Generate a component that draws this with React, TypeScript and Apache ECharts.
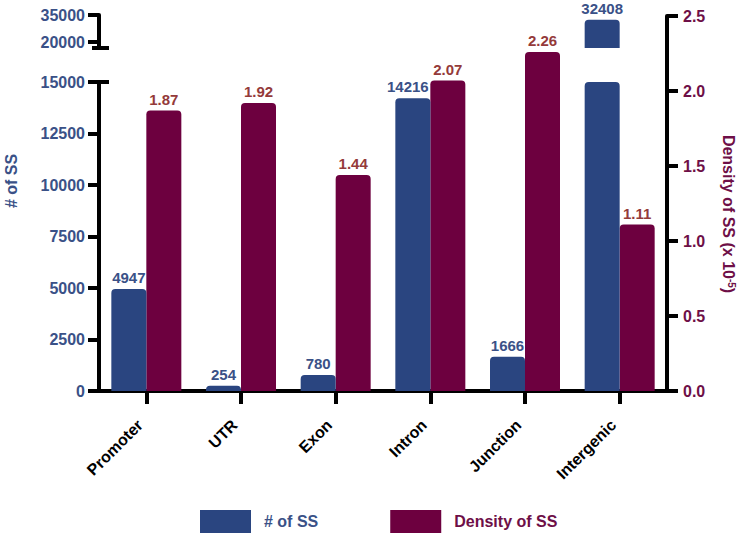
import React, { useEffect, useRef } from "react";
import * as echarts from "echarts";

const categories = ["Promoter", "UTR", "Exon", "Intron", "Junction", "Intergenic"];
const ssCounts = [4947, 254, 780, 14216, 1666, 32408];
const ssDensity = [1.87, 1.92, 1.44, 2.07, 2.26, 1.11];
const lowerMax = 15000;
const lowerInterval = 2500;
const upperTickValues = [20000, 35000];
const densityMax = 2.5;
const densityInterval = 0.5;

const BLUE = "#2a4580";
const BLUE_TXT = "#3a5187";
const MAROON = "#6d003f";
const MAROON_TXT = "#6e0f47";
const MAROON_LBL = "#943a3a";
const FONT = "'Liberation Sans', Arial, Helvetica, sans-serif";

// layout (pixels)
const W = 747;
const H = 536;
const PLOT_L = 99;
const PLOT_R = 667;
const PLOT_B = 391;
const FULL_T = 16;
const LOWER_T = 82;
const UPPER_T = 15;
const UPPER_B = 48;
const UPPER_PX_PER_UNIT = 27 / 15000; // 20000 -> 35000 spans 27px
const upperMin = upperTickValues[1] - (UPPER_B - UPPER_T) / UPPER_PX_PER_UNIT;

export default function App() {
  const ref = useRef<HTMLDivElement>(null);
  useEffect(() => {
    if (!ref.current) return;
    const chart = echarts.init(ref.current, undefined, { renderer: "svg" });
    const axisLine = { show: true, lineStyle: { color: "#000", width: 4 } };
    const axisTick = { show: true, inside: false, length: 11, lineStyle: { color: "#000", width: 4 } };
    const blueLabel = { show: true, position: "top", distance: 4, color: BLUE_TXT, fontWeight: "bold", fontSize: 15, fontFamily: FONT };
    const maroonLabel = {
      show: true, position: "top", distance: 4, color: MAROON_LBL, fontWeight: "bold", fontSize: 15, fontFamily: FONT,
      formatter: (p: any) => Number(p.value).toFixed(2),
    };
    const nulls = categories.map(() => null);
    const lowerData = ssCounts.map((v) =>
      v > lowerMax
        ? { value: lowerMax, label: { show: false } }
        : v >= 10000
        ? { value: v, label: { offset: [-5, 0] } }
        : v
    );
    const upperData = ssCounts.map((v) => (v > lowerMax ? v : null));
    const barCommon = { barWidth: 35, barGap: "0%", itemStyle: { borderRadius: [4, 4, 0, 0] } };
    const countFmt = (v: number) => String(Math.round(v));

    const option: any = {
      animation: false,
      textStyle: { fontFamily: FONT },
      grid: [
        { left: PLOT_L, right: W - PLOT_R, top: FULL_T, bottom: H - PLOT_B, containLabel: false },
        { left: PLOT_L, right: W - PLOT_R, top: LOWER_T, bottom: H - PLOT_B, containLabel: false },
        { left: PLOT_L, right: W - PLOT_R, top: UPPER_T, bottom: H - UPPER_B, containLabel: false },
      ],
      xAxis: [
        {
          type: "category", gridIndex: 0, data: categories,
          axisLine, axisTick: { ...axisTick, length: 13, alignWithLabel: true },
          axisLabel: {
            rotate: 45, margin: 25, padding: [0, 9, 0, 0], color: "#000", fontWeight: "bold", fontSize: 16, fontFamily: FONT, interval: 0,
          },
        },
        { type: "category", gridIndex: 1, data: categories, show: false },
        { type: "category", gridIndex: 2, data: categories, show: false },
      ],
      yAxis: [
        {
          type: "value", gridIndex: 0, position: "right", min: 0, max: densityMax, interval: densityInterval,
          axisLine, axisTick, splitLine: { show: false },
          axisLabel: { margin: 16, color: MAROON_TXT, fontWeight: "bold", fontSize: 16, fontFamily: FONT, formatter: (v: number) => v.toFixed(1) },
        },
        {
          type: "value", gridIndex: 1, position: "left", min: 0, max: lowerMax, interval: lowerInterval,
          axisLine, axisTick, splitLine: { show: false },
          axisLabel: { margin: 14, color: BLUE_TXT, fontWeight: "bold", fontSize: 16, fontFamily: FONT, formatter: countFmt },
        },
        {
          type: "value", gridIndex: 2, position: "left", min: upperMin, max: upperTickValues[1],
          axisLine, axisTick: { ...axisTick, customValues: upperTickValues }, splitLine: { show: false },
          axisLabel: { margin: 14, color: BLUE_TXT, fontWeight: "bold", fontSize: 16, fontFamily: FONT, customValues: upperTickValues, formatter: countFmt },
        },
      ],
      legend: {
        left: 200, top: 510, padding: 0, itemWidth: 51, itemHeight: 23, itemGap: 72, icon: "rect",
        textStyle: { fontSize: 16, fontWeight: "bold", fontFamily: FONT, padding: [0, 0, 0, 8] },
        data: [
          { name: "# of SS", textStyle: { color: BLUE_TXT } },
          { name: "Density of SS", textStyle: { color: MAROON_TXT } },
        ],
      },
      series: [
        { type: "bar", name: "# of SS", xAxisIndex: 0, yAxisIndex: 0, data: nulls, color: BLUE, ...barCommon },
        { type: "bar", name: "Density of SS", xAxisIndex: 0, yAxisIndex: 0, data: ssDensity, color: MAROON, label: maroonLabel, ...barCommon },
        { type: "bar", name: "# of SS", xAxisIndex: 1, yAxisIndex: 1, z: 3, data: lowerData, color: BLUE, label: blueLabel, ...barCommon },
        { type: "bar", name: "Density of SS", xAxisIndex: 1, yAxisIndex: 1, data: nulls, color: MAROON, ...barCommon },
        { type: "bar", name: "# of SS", xAxisIndex: 2, yAxisIndex: 2, z: 3, data: upperData, color: BLUE, label: blueLabel, ...barCommon },
        { type: "bar", name: "Density of SS", xAxisIndex: 2, yAxisIndex: 2, data: nulls, color: MAROON, ...barCommon },
      ],
      graphic: [
        { type: "line", shape: { x1: PLOT_L - 7, y1: UPPER_B, x2: PLOT_L + 10, y2: UPPER_B }, style: { stroke: "#000", lineWidth: 4 } },
        { type: "line", shape: { x1: PLOT_L, y1: LOWER_T, x2: PLOT_L + 10, y2: LOWER_T }, style: { stroke: "#000", lineWidth: 4 } },
        {
          type: "text", x: 11, y: 181, rotation: Math.PI / 2,
          style: { text: "# of SS", fill: BLUE_TXT, font: `bold 16px ${FONT}`, align: "center", verticalAlign: "middle" },
        },
        {
          type: "text", x: 728, y: 214, rotation: -Math.PI / 2,
          style: {
            text: "Density of SS (x 10{sup|-5})", fill: MAROON_TXT, font: `bold 16px ${FONT}`, align: "center", verticalAlign: "middle",
            rich: { sup: { fontSize: 10, fontWeight: "bold", fill: MAROON_TXT, verticalAlign: "top", fontFamily: FONT } },
          },
        },
      ],
    };
    chart.setOption(option);
    return () => chart.dispose();
  }, []);
  return <div ref={ref} style={{ position: "absolute", left: 0, top: 0, width: W, height: H }} />;
}
